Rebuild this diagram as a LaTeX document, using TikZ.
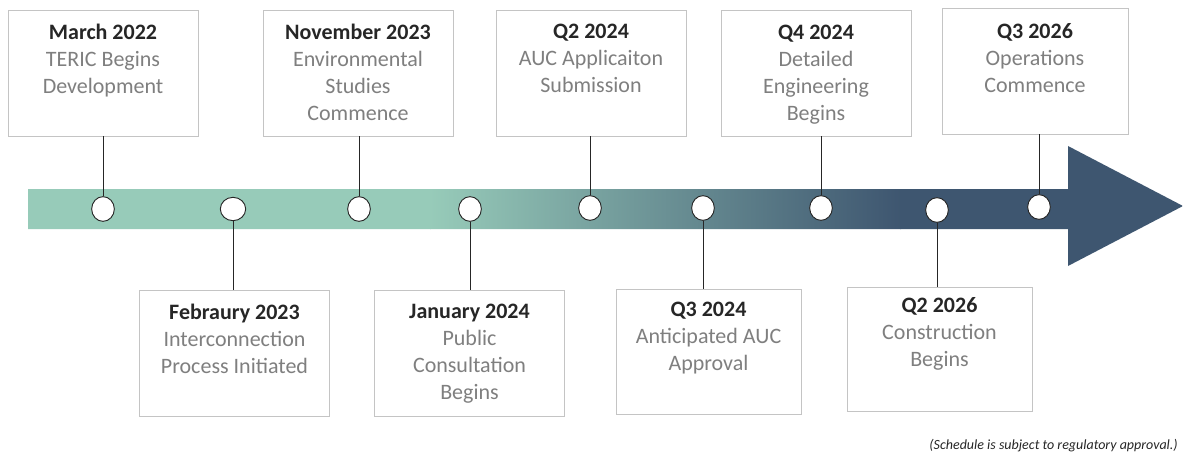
\documentclass[tikz,border=0pt]{standalone}
\usepackage{fontspec}
\setmainfont{Carlito}
\usepackage{tikz}
\usetikzlibrary{shapes.geometric, positioning}
\definecolor{tlGreen}{HTML}{97CBB9}
\definecolor{tlDark}{HTML}{3E5670}
\definecolor{tlGrey}{HTML}{7F7F7F}
\definecolor{tlTitle}{HTML}{262626}
\definecolor{tlBorder}{HTML}{C4C4C4}
\newcommand{\evtitle}[1]{{\color{tlTitle}\bfseries #1}}

\begin{document}
\begin{tikzpicture}[x=0.75pt, y=-0.75pt,
  box/.style={draw=tlBorder, fill=white, line width=0.6pt, minimum width=142.5pt, minimum height=94.5pt, inner sep=0pt},
  evtext/.style={align=center, inner sep=0pt, font=\fontsize{16.5pt}{20.25pt}\selectfont, text=tlGrey},
  dot/.style={ellipse, draw=black!85, fill=white, line width=0.7pt, minimum width=17pt, minimum height=18.5pt, inner sep=0pt},
  stem/.style={draw=black!85, line width=0.6pt},
  note/.style={font=\fontsize{10.5pt}{12pt}\selectfont\itshape, text=black!85, anchor=east, inner sep=0pt}
]
  \useasboundingbox (0,0) rectangle (1183,453);

  % Timeline arrow
  \begin{scope}
    \clip (28,189) -- (1068,189) -- (1068,146) -- (1183,206)
      -- (1068,266) -- (1068,229) -- (28,229) -- cycle;
    \fill[tlGreen] (28,140) rectangle (431,270);
    \shade[left color=tlGreen, right color=tlDark] (430,140) rectangle (901,270);
    \fill[tlDark] (900,140) rectangle (1183,270);
  \end{scope}

  % Boxes
  \node[box] (e1) at (103,73) {};
  \node[box] (e3) at (358,73) {};
  \node[box] (e5) at (591,73) {};
  \node[box] (e7) at (816,73) {};
  \node[box, minimum width=139.5pt] (e9) at (1035,71) {};
  \node[box] (e2) at (234.5,353.5) {};
  \node[box] (e4) at (469.5,353.5) {};
  \node[box, minimum width=138.75pt, minimum height=93.75pt] (e6) at (708.5,351.5) {};
  \node[box, minimum width=138.75pt, minimum height=93pt] (e8) at (939.5,349) {};

  % Texts
  \node[evtext, below=10.5pt of e1.north] (t1) {\evtitle{March 2022}\\TERIC Begins\\Development};
  \node[evtext, below=10.5pt of e2.north] (t2) {\evtitle{Febraury 2023}\\Interconnection\\Process Initiated};
  \node[evtext, below=10.5pt of e3.north] (t3) {\evtitle{November 2023}\\Environmental\\Studies\\Commence};
  \node[evtext, below=10.5pt of e4.north] (t4) {\evtitle{January 2024}\\Public\\Consultation\\Begins};
  \node[evtext, below=10.5pt of e5.north] (t5) {\evtitle{Q2 2024}\\AUC Applicaiton\\Submission};
  \node[evtext, below=10pt of e6.north] (t6) {\evtitle{Q3 2024}\\Anticipated AUC\\Approval};
  \node[evtext, below=11.25pt of e7.north] (t7) {\evtitle{Q4 2024}\\Detailed\\Engineering\\Begins};
  \node[evtext, below=8.25pt of e8.north] (t8) {\evtitle{Q2 2026}\\Construction\\Begins};
  \node[evtext, below=11.5pt of e9.north] (t9) {\evtitle{Q3 2026}\\Operations\\Commence};

  % Dots
  \node[dot] (d1) at (103,209) {};
  \node[dot, minimum width=19pt, minimum height=17.5pt] (d2) at (233,209) {};
  \node[dot] (d3) at (359,209) {};
  \node[dot] (d4) at (470,209) {};
  \node[dot] (d5) at (590,208) {};
  \node[dot] (d6) at (703,208) {};
  \node[dot] (d7) at (821,208) {};
  \node[dot] (d8) at (937,210) {};
  \node[dot] (d9) at (1039,207) {};

  % Stems
  \foreach \i in {1,3,5,7,9}
    \draw[stem] (d\i.north) -- (d\i.north |- e\i.south);
  \foreach \i in {2,4,6,8}
    \draw[stem] (d\i.south) -- (d\i.south |- e\i.north);

  \node[note] (sched) at (1178,446) {(Schedule is subject to regulatory approval.)};
\end{tikzpicture}
\end{document}
